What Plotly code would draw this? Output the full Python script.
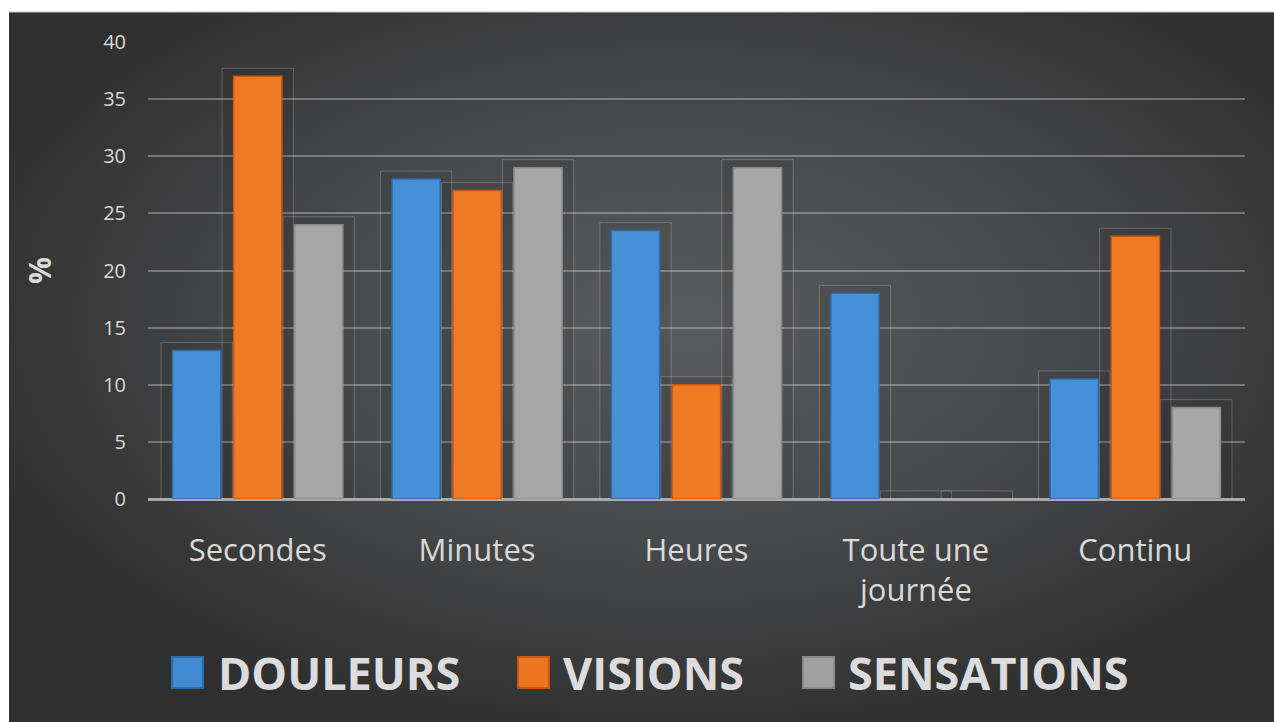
import base64
import plotly.graph_objects as go

# ---------------- data ----------------
categories = ["Secondes", "Minutes", "Heures", "Toute une<br>journée", "Continu"]
douleurs = [13, 28, 23.5, 18, 10.5]
visions = [37, 27, 10, 0, 23]
sensations = [24, 29, 29, 0, 8]
series_names = ["DOULEURS", "VISIONS", "SENSATIONS"]
y_tick_values = [0, 5, 10, 15, 20, 25, 30, 35, 40]

# ---------------- styles ----------------
fills = ["#4590d6", "#f07a24", "#a6a6a6"]
edges = ["#2e6cab", "#c75a12", "#8a8a8a"]
legend_fill = ["#3f8ad0", "#ee7420", "#a0a0a0"]
text_col = "#d9d9d9"
FONT = "Open Sans"

W, H = 1274, 722
L, R, T, B = 148, 29, 42, 223
PW, PH = W - L - R, H - T - B

BAR_W = 0.22        # bar width in category units
SLOT = 0.278        # distance between bar centres inside a group
FRAME_W = 0.325     # faint shadow frame width
FRAME_PAD = 0.7     # frame height above bar (in % units)


def px_x(px):
    return (px - L) / PW


def px_y(py):
    return (H - B - py) / PH


svg = (
    '<svg xmlns="http://www.w3.org/2000/svg" width="1265" height="710" '
    'preserveAspectRatio="none" viewBox="0 0 1265 710">'
    '<defs><radialGradient id="g" cx="53%" cy="44%" r="60%">'
    '<stop offset="0" stop-color="#5a5b5d"/>'
    '<stop offset="0.5" stop-color="#48494b"/>'
    '<stop offset="1" stop-color="#2f2f2f"/>'
    '</radialGradient></defs>'
    '<rect width="1265" height="710" fill="url(#g)"/></svg>'
)
bg_src = "data:image/svg+xml;base64," + base64.b64encode(svg.encode()).decode()

fig = go.Figure()
all_vals = [douleurs, visions, sensations]

# faint shadow frames behind bars
for i, (name, vals) in enumerate(zip(series_names, all_vals)):
    centre = (i - 1) * SLOT
    fig.add_trace(go.Bar(
        x=categories, y=[v + FRAME_PAD for v in vals],
        width=FRAME_W, offset=centre - FRAME_W / 2,
        marker=dict(color="rgba(0,0,0,0.06)", line=dict(color="rgba(255,255,255,0.22)", width=1)),
        showlegend=False, hoverinfo="skip",
    ))

for i, (name, vals, fc, ec) in enumerate(zip(series_names, all_vals, fills, edges)):
    centre = (i - 1) * SLOT
    fig.add_trace(go.Bar(
        x=categories, y=vals, name=name,
        width=BAR_W, offset=centre - BAR_W / 2,
        marker=dict(color=fc, line=dict(color=ec, width=[1.5 if v else 0 for v in vals])),
        showlegend=False,
        hovertemplate="%{x}: %{y}%<extra>" + name + "</extra>",
    ))

# custom legend (big squares + bold labels)
legend_sq_left = [172, 518, 803]
legend_txt_left = [216, 561, 846]
shapes = []
annotations = []
for i, name in enumerate(series_names):
    x0 = legend_sq_left[i]
    shapes.append(dict(
        type="rect", xref="paper", yref="paper",
        x0=px_x(x0), x1=px_x(x0 + 31), y0=px_y(688), y1=px_y(657),
        fillcolor=legend_fill[i], line=dict(color=edges[i], width=2), layer="above",
    ))
    annotations.append(dict(
        text="<b>" + name + "</b>", xref="paper", yref="paper",
        x=px_x(legend_txt_left[i]), y=px_y(672), xanchor="left", yanchor="middle",
        showarrow=False, font=dict(family=FONT, size=45, color="#dcdcde"),
    ))

# thin light line on top edge of the chart panel
shapes.append(dict(
    type="line", xref="paper", yref="paper",
    x0=px_x(9), x1=px_x(W), y0=px_y(12), y1=px_y(12),
    line=dict(color="#c9c9c9", width=1), layer="below",
))

fig.update_layout(
    width=W, height=H,
    margin=dict(l=L, r=R, t=T, b=B, pad=0),
    paper_bgcolor="white",
    plot_bgcolor="rgba(0,0,0,0)",
    barmode="overlay",
    font=dict(family=FONT, color=text_col),
    shapes=shapes,
    annotations=annotations,
    images=[dict(
        source=bg_src, xref="paper", yref="paper",
        x=px_x(9), y=px_y(12), sizex=(W - 9) / PW, sizey=(H - 12) / PH,
        xanchor="left", yanchor="top", sizing="stretch", layer="below",
    )],
    xaxis=dict(
        range=[-0.5, 4.5],
        showgrid=False, showline=False, ticks="",
        tickfont=dict(family=FONT, size=31, color=text_col),
        ticklabelstandoff=30,
    ),
    yaxis=dict(
        range=[0, 40], tickvals=y_tick_values,
        showgrid=True, gridcolor="rgba(255,255,255,0.3)", gridwidth=1.5,
        zeroline=True, zerolinecolor="#a9a9a9", zerolinewidth=3,
        showline=False, ticks="",
        tickfont=dict(family=FONT, size=20, color=text_col),
        ticklabelstandoff=21,
        title=dict(text="<b>%</b>", font=dict(family=FONT, size=30, color=text_col), standoff=42),
    ),
)

fig.write_html(
    "out.html",
    config={"displayModeBar": False},
    post_script="document.body.style.margin='0';document.body.style.overflow='hidden';",
)
